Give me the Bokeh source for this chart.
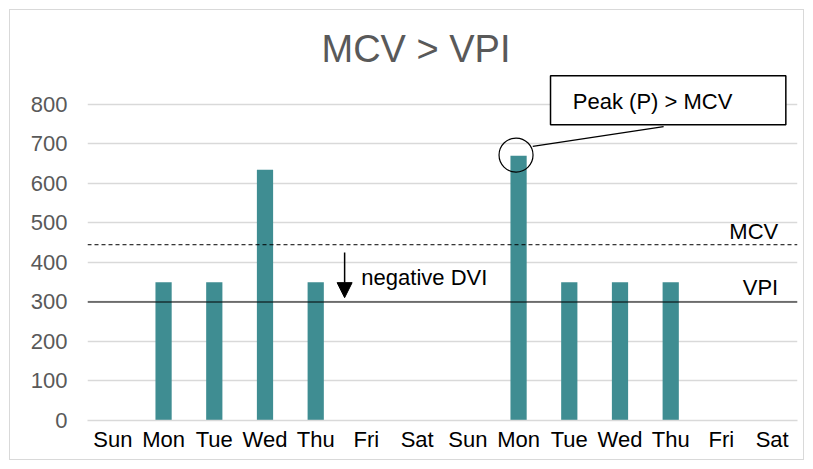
from bokeh.plotting import figure
from bokeh.models import (Range1d, FixedTicker, Span, Label, Arrow, NormalHead,
                          BoxAnnotation, ColumnDataSource)
from bokeh.embed import file_html
from bokeh.resources import INLINE

# ---- data ----
days = ["Sun", "Mon", "Tue", "Wed", "Thu", "Fri", "Sat",
        "Sun", "Mon", "Tue", "Wed", "Thu", "Fri", "Sat"]
values = [0, 350, 350, 635, 350, 0, 0, 0, 670, 350, 350, 350, 0, 0]
y_ticks = [0, 100, 200, 300, 400, 500, 600, 700, 800]
MCV = 445
VPI = 300
title_text = "MCV > VPI"

FONT = "Liberation Sans"
BAR = "#3F8D92"
GRID = "#d9d9d9"
GRAY = "#595959"

centers = [i + 0.5 for i in range(len(days))]

p = figure(frame_width=710, frame_height=351, output_backend="svg",
           toolbar_location=None, x_range=Range1d(0, len(days)),
           y_range=Range1d(0, 888.6),
           min_border_left=77, min_border_right=6,
           min_border_top=59, min_border_bottom=39)
p.styles = {"border": "1px solid #d9d9d9", "margin-left": "9px", "margin-top": "9px"}

p.title.text = title_text
p.title.align = "left"
p.title.offset = 234
p.title.text_font = FONT
p.title.text_font_size = "38px"
p.title.text_font_style = "normal"
p.title.text_color = GRAY
p.title.standoff = 0

p.outline_line_color = None
p.xgrid.grid_line_color = None
p.ygrid.grid_line_color = GRID
p.ygrid.grid_line_width = 1.5

p.yaxis.ticker = FixedTicker(ticks=y_ticks)
p.yaxis.axis_line_color = None
p.yaxis.major_tick_line_color = None
p.yaxis.minor_tick_line_color = None
p.yaxis.major_label_text_font = FONT
p.yaxis.major_label_text_font_size = "22px"
p.yaxis.major_label_text_color = GRAY
p.yaxis.major_label_standoff = 14

p.xaxis.ticker = FixedTicker(ticks=centers)
p.xaxis.major_label_overrides = {c: d for c, d in zip(centers, days)}
p.xaxis.axis_line_color = GRID
p.xaxis.axis_line_width = 1.5
p.xaxis.major_tick_line_color = None
p.xaxis.minor_tick_line_color = None
p.xaxis.major_label_text_font = FONT
p.xaxis.major_label_text_font_size = "22px"
p.xaxis.major_label_text_color = "#000000"
p.xaxis.major_label_standoff = 0

src = ColumnDataSource(dict(x=centers, top=values, day=days))
p.vbar(x="x", top="top", width=0.32, source=src, fill_color=BAR, line_color=None)

# reference lines
p.add_layout(Span(location=MCV, dimension="width", line_color="black",
                  line_width=1, line_dash="4 3"))
p.add_layout(Span(location=VPI, dimension="width", line_color="black", line_width=1.2))

p.add_layout(Label(x=13.62, y=MCV + 33, text="MCV", text_align="right",
                   text_baseline="middle", text_font=FONT, text_font_size="22px",
                   text_color="black"))
p.add_layout(Label(x=13.62, y=VPI + 37, text="VPI", text_align="right",
                   text_baseline="middle", text_font=FONT, text_font_size="22px",
                   text_color="black"))

# negative DVI arrow
p.add_layout(Arrow(x_start=5.07, y_start=425, x_end=5.07, y_end=311,
                   line_color="black", line_width=1.5,
                   end=NormalHead(size=15, fill_color="black", line_color="black")))
p.add_layout(Label(x=5.40, y=362, text="negative DVI", text_baseline="middle",
                   text_font=FONT, text_font_size="22px", text_color="black"))

# peak callout
peak_i = max(range(len(values)), key=lambda i: values[i])
p.scatter(x=[centers[peak_i] - 0.05], y=[values[peak_i] + 2], size=34, marker="circle",
          fill_color=None, line_color="black", line_width=1.2)
p.add_layout(BoxAnnotation(left=9.13, right=13.77, bottom=749, top=873,
                           fill_color="white", fill_alpha=1.0,
                           line_color="black", line_alpha=1.0, line_width=1.5,
                           level="overlay"))
p.add_layout(Label(x=9.57, y=808, text="Peak (P) > MCV", text_baseline="middle",
                   text_font=FONT, text_font_size="22px", text_color="black",
                   level="overlay"))
p.segment(x0=[8.78], y0=[694], x1=[11.36], y1=[744], line_color="black", line_width=1.2)

open("out.html", "w").write(file_html(p, INLINE))
